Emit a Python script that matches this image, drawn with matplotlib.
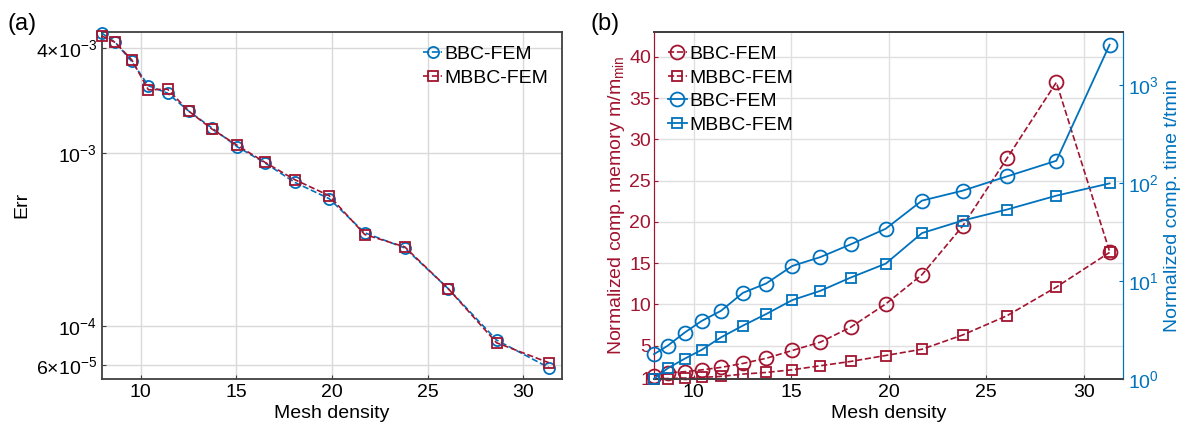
import matplotlib
matplotlib.use("Agg")
import matplotlib.pyplot as plt

plt.rcParams['font.family'] = ['Liberation Sans', 'DejaVu Sans']
plt.rcParams['mathtext.fontset'] = 'custom'
plt.rcParams['mathtext.rm'] = 'Liberation Sans'
plt.rcParams['mathtext.it'] = 'Liberation Sans:italic'
plt.rcParams['font.size'] = 14

BLUE = '#0072BD'
RED = '#A2142F'
FRAME = '#404040'

mesh = [7.97, 8.68, 9.54, 10.41, 11.41, 12.53, 13.72, 15.06, 16.5, 18.05,
        19.85, 21.71, 23.8, 26.07, 28.6, 31.33]

# panel (a): error
err_bbc = [4.88e-3, 4.31e-3, 3.35e-3, 2.43e-3, 2.20e-3, 1.73e-3, 1.39e-3, 1.08e-3,
           8.73e-4, 6.75e-4, 5.44e-4, 3.46e-4, 2.83e-4, 1.65e-4, 8.34e-5, 5.79e-5]
err_mbbc = [4.70e-3, 4.31e-3, 3.42e-3, 2.30e-3, 2.32e-3, 1.73e-3, 1.37e-3, 1.10e-3,
            8.80e-4, 7.00e-4, 5.66e-4, 3.38e-4, 2.87e-4, 1.65e-4, 8.05e-5, 6.18e-5]

# panel (b): normalized memory (left) and time (right)
mem_bbc = [1.35, 1.7, 1.85, 2.07, 2.37, 2.85, 3.47, 4.42, 5.43, 7.23,
           10.05, 13.6, 19.5, 27.7, 36.9, 16.4]
mem_mbbc = [1.0, 1.02, 1.08, 1.16, 1.28, 1.56, 1.76, 2.08, 2.57, 3.09,
            3.81, 4.57, 6.3, 8.63, 12.1, 16.3]
time_bbc = [1.78, 2.18, 2.96, 3.89, 4.95, 7.55, 9.4, 14.2, 17.5, 23.6,
            34.1, 66.1, 83.6, 117, 169, 2594]
time_mbbc = [1.0, 1.28, 1.6, 1.97, 2.65, 3.49, 4.58, 6.36, 7.91, 10.8,
             15.0, 30.8, 41.4, 53.6, 74.3, 99.2]

a_yticks = [6e-5, 1e-4, 1e-3, 4e-3]
a_yticklabels = [r'$6{\times}10^{-5}$', r'$10^{-4}$', r'$10^{-3}$', r'$4{\times}10^{-3}$']
b_left_ticks = [1, 5, 10, 15, 20, 25, 30, 35, 40]
b_right_ticks = [1, 10, 100, 1000]
b_right_labels = [r'$10^{0}$', r'$10^{1}$', r'$10^{2}$', r'$10^{3}$']
x_ticks = [10, 15, 20, 25, 30]

fig = plt.figure(figsize=(11.88, 4.34), dpi=100)

# ---- panel (a)
ax1 = fig.add_axes([0.0856, 0.1274, 0.3872, 0.7989])
ax1.plot(mesh, err_bbc, '--o', color=BLUE, mfc='none', ms=8, lw=1.2, mew=1.3,
         label='BBC-FEM', clip_on=False, zorder=3)
ax1.plot(mesh, err_mbbc, '--s', color=RED, mfc='none', ms=7, lw=1.2, mew=1.3,
         label='MBBC-FEM', clip_on=False, zorder=3)
ax1.set_yscale('log')
ax1.set_ylim(5e-5, 4.95e-3)
ax1.set_xlim(mesh[0], 32)
ax1.set_yticks(a_yticks)
ax1.set_yticklabels(a_yticklabels)
ax1.yaxis.set_minor_locator(matplotlib.ticker.NullLocator())
ax1.set_xticks(x_ticks)
ax1.grid(True, color='#d9d9d9', lw=1)
ax1.set_axisbelow(True)
ax1.set_xlabel('Mesh density', labelpad=3)
ax1.set_ylabel('Err')
for s in ax1.spines.values():
    s.set_color(FRAME)
    s.set_linewidth(1.3)
ax1.tick_params(direction='in', length=3, color=FRAME, labelsize=14)
ax1.legend(loc='upper right', frameon=False, handlelength=1.0, handletextpad=0.1,
           borderaxespad=0.3, labelspacing=0.3, fontsize=14)
fig.text(0.006, 0.97, '(a)', fontsize=17, va='top')

# ---- panel (b)
ax2 = fig.add_axes([0.5505, 0.1274, 0.3945, 0.7989])
ax3 = ax2.twinx()
ax2.plot(mesh, mem_bbc, '--o', color=RED, mfc='none', ms=10, lw=1.2, mew=1.3,
         label='BBC-FEM', clip_on=False, zorder=3)
ax2.plot(mesh, mem_mbbc, '--s', color=RED, mfc='none', ms=7, lw=1.2, mew=1.3,
         label='MBBC-FEM', clip_on=False, zorder=3)
ax3.plot(mesh, time_bbc, '-o', color=BLUE, mfc='none', ms=10, lw=1.3, mew=1.3,
         label='BBC-FEM', clip_on=False, zorder=3)
ax3.plot(mesh, time_mbbc, '-s', color=BLUE, mfc='none', ms=7, lw=1.3, mew=1.3,
         label='MBBC-FEM', clip_on=False, zorder=3)

ax2.set_xlim(mesh[0], 32)
ax2.set_ylim(1, 43)
ax2.set_yticks(b_left_ticks)
ax2.set_xticks(x_ticks)
ax2.grid(True, color='#e0e0e0', lw=1)
ax2.set_axisbelow(True)
ax3.set_yscale('log')
ax3.set_ylim(1, 3500)
ax3.set_yticks(b_right_ticks)
ax3.set_yticklabels(b_right_labels)
ax3.yaxis.set_minor_locator(matplotlib.ticker.NullLocator())

ax2.set_xlabel('Mesh density', labelpad=3)
ax2.set_ylabel(r'Normalized comp. memory m/m$_{\mathrm{min}}$', color=RED, labelpad=2)
ax3.set_ylabel('Normalized comp. time t/tmin', color=BLUE, labelpad=4)

for ax in (ax2, ax3):
    ax.spines['top'].set_color(FRAME)
    ax.spines['bottom'].set_color(FRAME)
    ax.spines['top'].set_linewidth(1.3)
    ax.spines['bottom'].set_linewidth(1.3)
    ax.spines['left'].set_color(RED)
    ax.spines['right'].set_color(BLUE)
ax2.tick_params(axis='x', direction='in', length=3, color=FRAME, labelsize=14)
ax2.tick_params(axis='y', direction='in', length=3, color=RED, labelcolor=RED, labelsize=14, pad=2)
ax3.tick_params(axis='y', direction='in', length=3, color=BLUE, labelcolor=BLUE, labelsize=14)

h2, l2 = ax2.get_legend_handles_labels()
h3, l3 = ax3.get_legend_handles_labels()
ax3.legend(h2 + h3, l2 + l3, loc='upper left', frameon=False, handlelength=1.0,
           handletextpad=0.1, borderaxespad=0.3, labelspacing=0.3, fontsize=14)
fig.text(0.497, 0.97, '(b)', fontsize=17, va='top')

fig.savefig('out.png', dpi=100)
